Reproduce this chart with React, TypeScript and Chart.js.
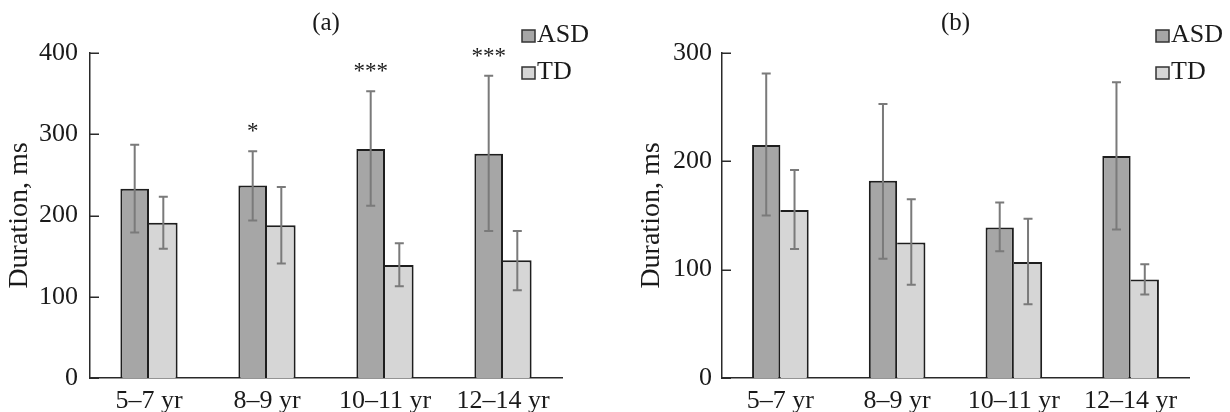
import React, { useEffect, useRef } from "react";
import { Chart, registerables } from "chart.js";

Chart.register(...registerables);

// ---------- data ----------
const categories = ["5–7 yr", "8–9 yr", "10–11 yr", "12–14 yr"];
const seriesNames = ["ASD", "TD"];

// panel (a)
const aAsd = [233, 237, 282, 276];
const aAsdLow = [179, 194, 212, 181];
const aAsdHigh = [287, 279, 353, 372];
const aTd = [191, 188, 139, 145];
const aTdLow = [159, 141, 113, 108];
const aTdHigh = [223, 235, 166, 181];
const aStars = ["", "*", "***", "***"];
const aStarValues = [0, 310, 384, 402];
const aTicks = [0, 100, 200, 300, 400];

// panel (b)
const bAsd = [215, 182, 139, 205];
const bAsdLow = [150, 110, 117, 137];
const bAsdHigh = [281, 253, 162, 273];
const bTd = [155, 125, 107, 91];
const bTdLow = [119, 86, 68, 77];
const bTdHigh = [192, 165, 147, 105];
const bStars = ["", "", "", ""];
const bStarValues = [0, 0, 0, 0];
const bTicks = [0, 100, 200, 300];

const FONT = '"Liberation Serif", "DejaVu Serif", "Times New Roman", serif';
const ASD_COLOR = "#a6a6a6";
const TD_COLOR = "#d6d6d6";
const TEXT = "#1a1a1a";
const AXIS = "#2a2a2a";
const ERR = "#7a7a7a";

type PanelProps = {
  title: string;
  asd: number[];
  asdLow: number[];
  asdHigh: number[];
  td: number[];
  tdLow: number[];
  tdHigh: number[];
  stars: string[];
  starValues: number[];
  ticks: number[];
  left: number;
  yAxisWidth: number;
  rightPad: number;
  tickPad: number;
  titlePad: number;
  legendX: number;
};

function Panel(p: PanelProps) {
  const ref = useRef<HTMLCanvasElement | null>(null);

  useEffect(() => {
    if (!ref.current) return;
    const lows = [p.asdLow, p.tdLow];
    const highs = [p.asdHigh, p.tdHigh];
    const colors = [ASD_COLOR, TD_COLOR];

    const overlay = {
      id: "overlay",
      afterDatasetsDraw(chart: any) {
        const ctx = chart.ctx as CanvasRenderingContext2D;
        const ys = chart.scales.y;
        const area = chart.chartArea;
        // error bars
        chart.data.datasets.forEach((_ds: any, di: number) => {
          const meta = chart.getDatasetMeta(di);
          meta.data.forEach((el: any, i: number) => {
            const x = el.x;
            const y1 = ys.getPixelForValue(lows[di][i]);
            const y2 = ys.getPixelForValue(highs[di][i]);
            ctx.save();
            ctx.strokeStyle = ERR;
            ctx.lineWidth = 2;
            ctx.beginPath();
            ctx.moveTo(x, y1);
            ctx.lineTo(x, y2);
            ctx.moveTo(x - 4.5, y1);
            ctx.lineTo(x + 4.5, y1);
            ctx.moveTo(x - 4.5, y2);
            ctx.lineTo(x + 4.5, y2);
            ctx.stroke();
            ctx.restore();
          });
        });
        // inward y ticks
        ctx.save();
        ctx.strokeStyle = AXIS;
        ctx.lineWidth = 1.5;
        ctx.beginPath();
        p.ticks.forEach((t) => {
          const y = Math.round(ys.getPixelForValue(t)) + 0.25;
          ctx.moveTo(area.left, y);
          ctx.lineTo(area.left + 9, y);
        });
        ctx.stroke();
        ctx.restore();
        // significance stars
        const asdMeta = chart.getDatasetMeta(0);
        ctx.save();
        ctx.fillStyle = TEXT;
        ctx.font = `23px ${FONT}`;
        ctx.textAlign = "center";
        ctx.textBaseline = "alphabetic";
        p.stars.forEach((s, i) => {
          if (!s) return;
          const x = asdMeta.data[i].x;
          const y = ys.getPixelForValue(p.starValues[i]);
          ctx.fillText(s, x, y + 12);
        });
        ctx.restore();
        // title
        ctx.save();
        ctx.fillStyle = TEXT;
        ctx.font = `25px ${FONT}`;
        ctx.textAlign = "center";
        ctx.textBaseline = "alphabetic";
        ctx.fillText(p.title, (area.left + area.right) / 2, 30);
        ctx.restore();
        // legend
        ctx.save();
        ctx.font = `26px ${FONT}`;
        ctx.textAlign = "left";
        ctx.textBaseline = "alphabetic";
        const baselines = [42, 79];
        seriesNames.forEach((name, i) => {
          const by = baselines[i];
          ctx.fillStyle = colors[i];
          ctx.fillRect(p.legendX, by - 12, 13, 12);
          ctx.strokeStyle = "#333";
          ctx.lineWidth = 1.5;
          ctx.strokeRect(p.legendX, by - 12, 13, 12);
          ctx.fillStyle = TEXT;
          ctx.fillText(name, p.legendX + 15, by);
        });
        ctx.restore();
      },
    };

    const chart = new Chart(ref.current, {
      type: "bar",
      data: {
        labels: categories,
        datasets: [
          {
            label: seriesNames[0],
            data: p.asd,
            backgroundColor: ASD_COLOR,
            borderColor: "#1e1e1e",
            borderWidth: { top: 2, left: 2, right: 2, bottom: 0 },
            categoryPercentage: 0.485,
            barPercentage: 1,
          },
          {
            label: seriesNames[1],
            data: p.td,
            backgroundColor: TD_COLOR,
            borderColor: "#1e1e1e",
            borderWidth: { top: 2, left: 0, right: 2, bottom: 0 },
            categoryPercentage: 0.485,
            barPercentage: 1,
          },
        ],
      },
      options: {
        animation: false,
        responsive: false,
        devicePixelRatio: 1,
        layout: { padding: { top: 53, right: p.rightPad, bottom: 0, left: 0 } },
        plugins: {
          legend: { display: false },
          title: { display: false },
          tooltip: { enabled: false },
        },
        scales: {
          x: {
            grid: { display: false, drawTicks: false },
            border: { display: true, color: AXIS, width: 1.5 },
            ticks: { color: TEXT, font: { family: FONT, size: 26 }, padding: 8, maxRotation: 0 },
            afterFit: (s: any) => {
              s.height = 34;
            },
          },
          y: {
            min: 0,
            max: p.ticks[p.ticks.length - 1],
            grid: { display: false, drawTicks: false },
            border: { display: true, color: AXIS, width: 1.5 },
            ticks: { stepSize: 100, color: TEXT, font: { family: FONT, size: 26 }, padding: p.tickPad },
            title: {
              display: true,
              text: "Duration, ms",
              color: TEXT,
              font: { family: FONT, size: 28 },
              padding: { top: p.titlePad, bottom: 0 },
            },
            afterFit: (s: any) => {
              s.width = p.yAxisWidth;
            },
          },
        },
      },
      plugins: [overlay],
    } as any);
    return () => chart.destroy();
  }, []);

  return (
    <div style={{ position: "absolute", left: p.left, top: 0, width: 615, height: 412 }}>
      <canvas ref={ref} width={615} height={412} style={{ display: "block" }} />
    </div>
  );
}

export default function App() {
  return (
    <div style={{ position: "fixed", left: 0, top: 0, width: 1230, height: 412, background: "#fff", overflow: "hidden" }}>
      <Panel
        title="(a)"
        asd={aAsd}
        asdLow={aAsdLow}
        asdHigh={aAsdHigh}
        td={aTd}
        tdLow={aTdLow}
        tdHigh={aTdHigh}
        stars={aStars}
        starValues={aStarValues}
        ticks={aTicks}
        left={0}
        yAxisWidth={90}
        rightPad={53}
        tickPad={12}
        titlePad={3}
        legendX={522}
      />
      <Panel
        title="(b)"
        asd={bAsd}
        asdLow={bAsdLow}
        asdHigh={bAsdHigh}
        td={bTd}
        tdLow={bTdLow}
        tdHigh={bTdHigh}
        stars={bStars}
        starValues={bStarValues}
        ticks={bTicks}
        left={615}
        yAxisWidth={107}
        rightPad={41}
        tickPad={10}
        titlePad={20}
        legendX={541}
      />
    </div>
  );
}
